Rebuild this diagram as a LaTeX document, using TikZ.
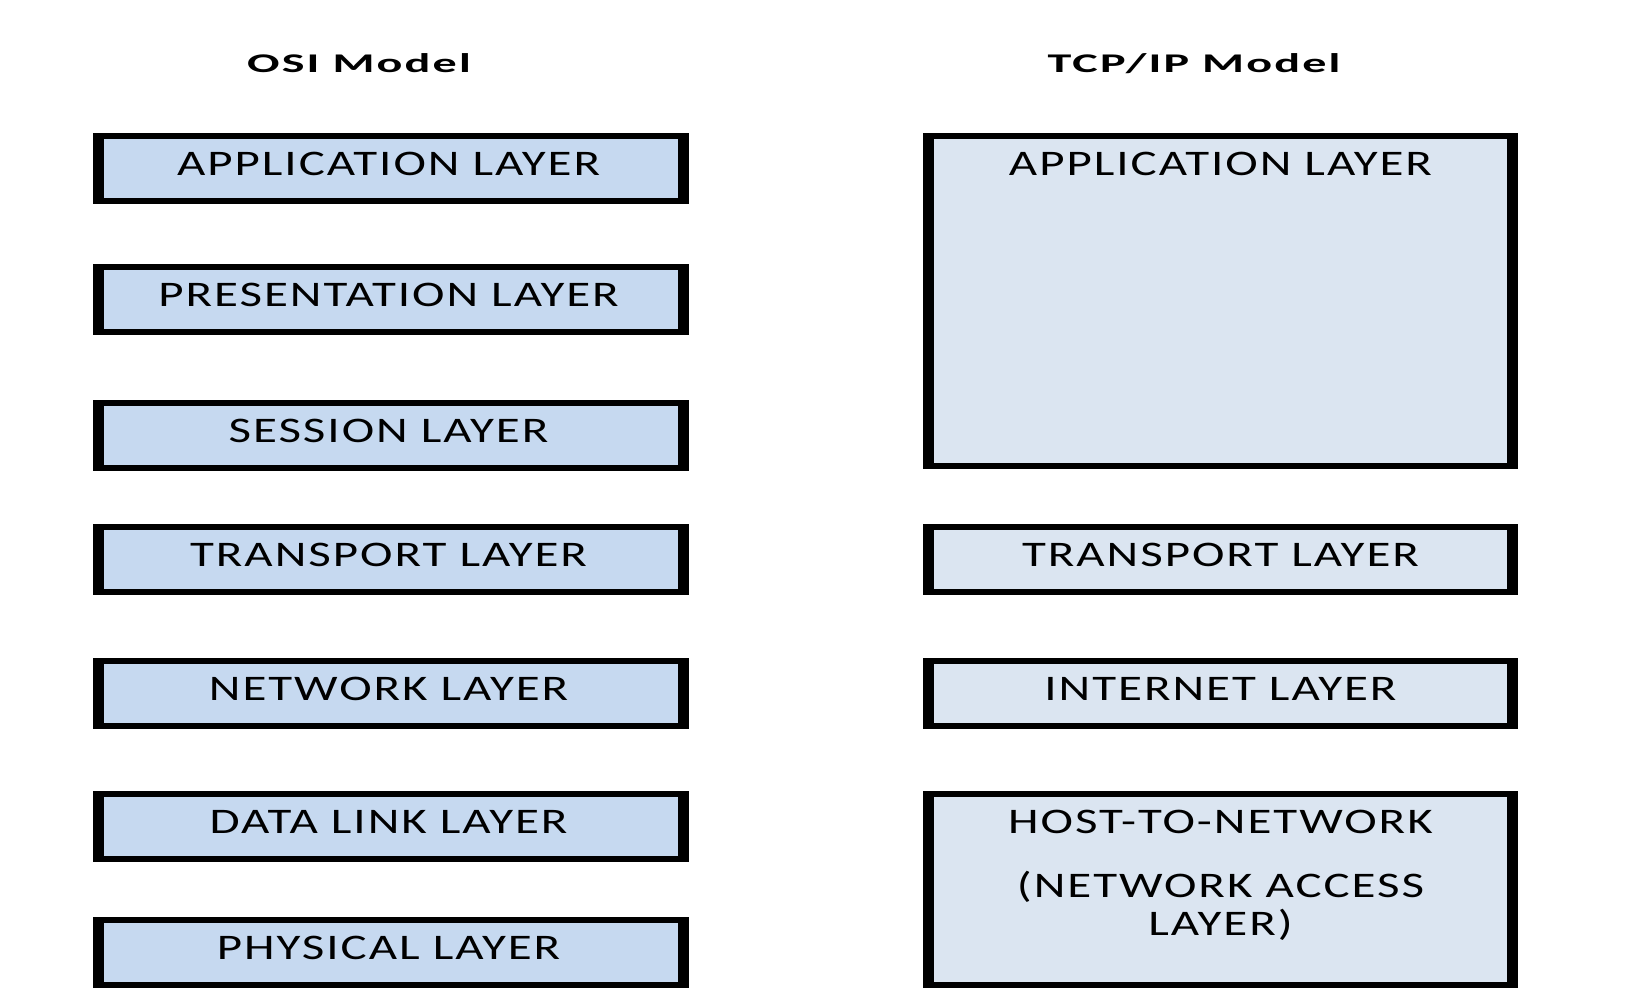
\documentclass[tikz,border=0pt]{standalone}
\usepackage{fontspec}
\setmainfont{Carlito}
\newfontfamily\layerfont[FakeStretch=1.36,LetterSpace=5.5]{Carlito}
\newfontfamily\headfont[FakeStretch=1.78,LetterSpace=8]{Carlito}
\usetikzlibrary{calc}

\definecolor{osifill}{RGB}{198,217,240}
\definecolor{tcpfill}{RGB}{219,229,241}

\tikzset{
  layerbox/.style={fill=black, inner sep=0pt, outer sep=0pt, anchor=north west,
    minimum width=298pt,
    path picture={\fill[#1] ([shift={(5.5pt,-3pt)}]path picture bounding box.north west)
      rectangle ([shift={(-5.5pt,3pt)}]path picture bounding box.south east);}},
  layertext/.style={anchor=base, inner sep=0pt, align=center,
    font=\layerfont\fontsize{18}{18.75}\selectfont},
  headtext/.style={anchor=base, inner sep=0pt, font=\headfont\bfseries\fontsize{13.5}{15}\selectfont}
}

\begin{document}
\begin{tikzpicture}[x=0.5pt,y=-0.5pt]
    \useasboundingbox[fill=white] (0,0) rectangle (1625,987);

    % Titles
    \node[headtext] (osititle) at (359,72) {OSI Model};
    \node[headtext] (tcptitle) at (1194,72) {TCP/IP Model};

    % OSI layers (left column)
    \foreach \top/\name/\label in {133/app/APPLICATION LAYER, 264/pres/PRESENTATION LAYER,
        400/sess/SESSION LAYER, 524/trans/TRANSPORT LAYER, 658/net/NETWORK LAYER,
        791/link/DATA LINK LAYER, 917/phys/PHYSICAL LAYER} {
        \node[layerbox=osifill, minimum height=35.5pt] (osi\name) at (93,\top) {};
        \node[layertext] (osi\name txt) at ([xshift=-1.2pt,yshift=-21pt]osi\name.north) {\label};
    }

    % TCP/IP layers (right column)
    \foreach \top/\boxh/\name in {133/168/app, 524/35.5/trans, 658/35.5/inet, 791/98.5/host} {
        \node[layerbox=tcpfill, minimum width=297.5pt, minimum height=\boxh pt] (tcp\name) at (923,\top) {};
    }
    \node[layertext] (tcpapptxt) at ([yshift=-21pt]tcpapp.north) {APPLICATION LAYER};
    \node[layertext] (tcptranstxt) at ([yshift=-21pt]tcptrans.north) {TRANSPORT LAYER};
    \node[layertext] (tcpinettxt) at ([yshift=-21pt]tcpinet.north) {INTERNET LAYER};
    \node[layertext, anchor=north] (tcphosttxt) at ([yshift=-9.5pt]tcphost.north)
        {HOST-TO-NETWORK\\[13.25pt](NETWORK ACCESS\\LAYER)};

\end{tikzpicture}
\end{document}
